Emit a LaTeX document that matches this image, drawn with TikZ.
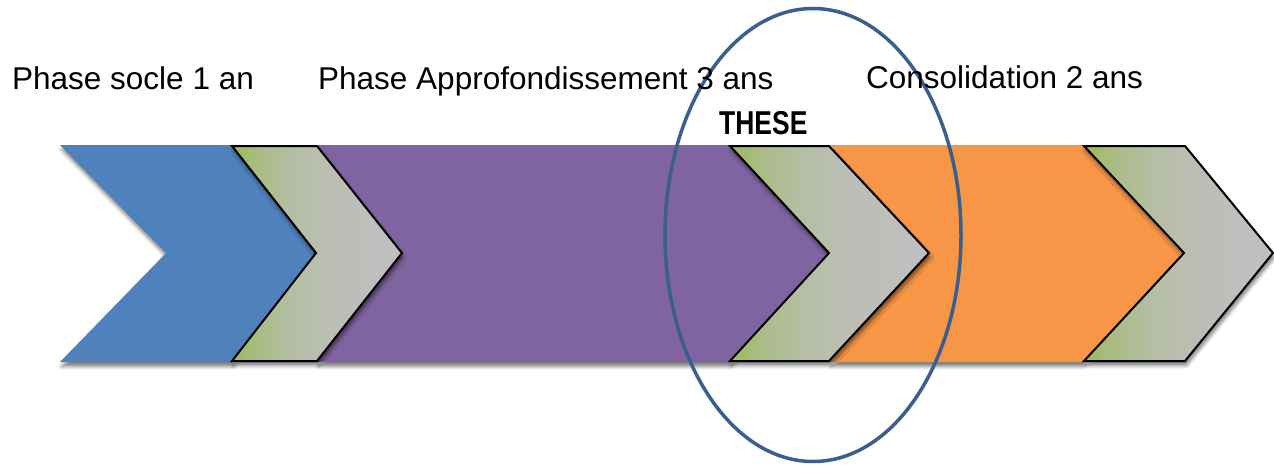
\documentclass[tikz,border=0pt]{standalone}
\usepackage{fontspec}
\setmainfont{Liberation Sans}
\usetikzlibrary{shadows.blur}
\definecolor{cblue}{HTML}{4F81BD}
\definecolor{cpurple}{HTML}{8064A2}
\definecolor{corange}{HTML}{F79646}
\definecolor{cgreen}{HTML}{9BBB59}
\definecolor{cgray}{HTML}{BFBFBF}
\definecolor{cring}{HTML}{3A5F8E}
\pgfdeclarehorizontalshading{jointfade}{100bp}{%
  rgb(0bp)=(0.608,0.733,0.349);
  rgb(25bp)=(0.608,0.733,0.349);
  rgb(33bp)=(0.667,0.737,0.525);
  rgb(43bp)=(0.710,0.745,0.643);
  rgb(55bp)=(0.737,0.745,0.710);
  rgb(70bp)=(0.749,0.749,0.749);
  rgb(100bp)=(0.749,0.749,0.749)}
\begin{document}
\begin{tikzpicture}[x=1pt,y=-1pt,
  shade/.style={blur shadow={shadow xshift=1.5pt,shadow yshift=-4.5pt,shadow blur radius=3.5pt,shadow opacity=50}},
  band/.style={shade},
  joint/.style={shade,draw=black,line width=2pt,line join=miter,shading=jointfade},
  lbl/.style={anchor=base west,inner sep=0pt,font=\fontsize{31.5}{37}\selectfont},
  ring/.style={draw=cring,line width=3.5pt}]
\useasboundingbox (0,0) rectangle (1274,464);
% bands
\path[band,fill=cblue] (60,145) -- (232,145) -- (317,253) -- (232,362) -- (60,362) -- (166,253) -- cycle;
\path[band,fill=cpurple] (317,145) -- (730,145) -- (830,253) -- (730,362) -- (317,362) -- (402,253) -- cycle;
\path[band,fill=corange] (830,145) -- (1082,145) -- (1182,253) -- (1082,362) -- (830,362) -- (929,253) -- cycle;
% joints
\path[joint] (232,146) -- (317,146) -- (402,253) -- (317,361) -- (232,361) -- (316,253) -- cycle;
\path[joint] (730,146) -- (829,146) -- (929,253) -- (829,361) -- (730,361) -- (829,253) -- cycle;
\path[joint] (1084,146) -- (1185,146) -- (1273,253) -- (1185,361) -- (1084,361) -- (1184,253) -- cycle;
% ring
\draw[ring] (813,235) ellipse [x radius=148, y radius=226.5];
% labels
\node[lbl] (socle) at (12,89) {Phase socle 1 an};
\node[lbl] (appro) at (318,89) {Phase Approfondissement 3 ans};
\node[lbl] (conso) at (866,88) {Consolidation 2 ans};
\node[lbl] (these) at (719,134) {\scalebox{0.84}[1.05]{\bfseries THESE}};
\end{tikzpicture}
\end{document}
